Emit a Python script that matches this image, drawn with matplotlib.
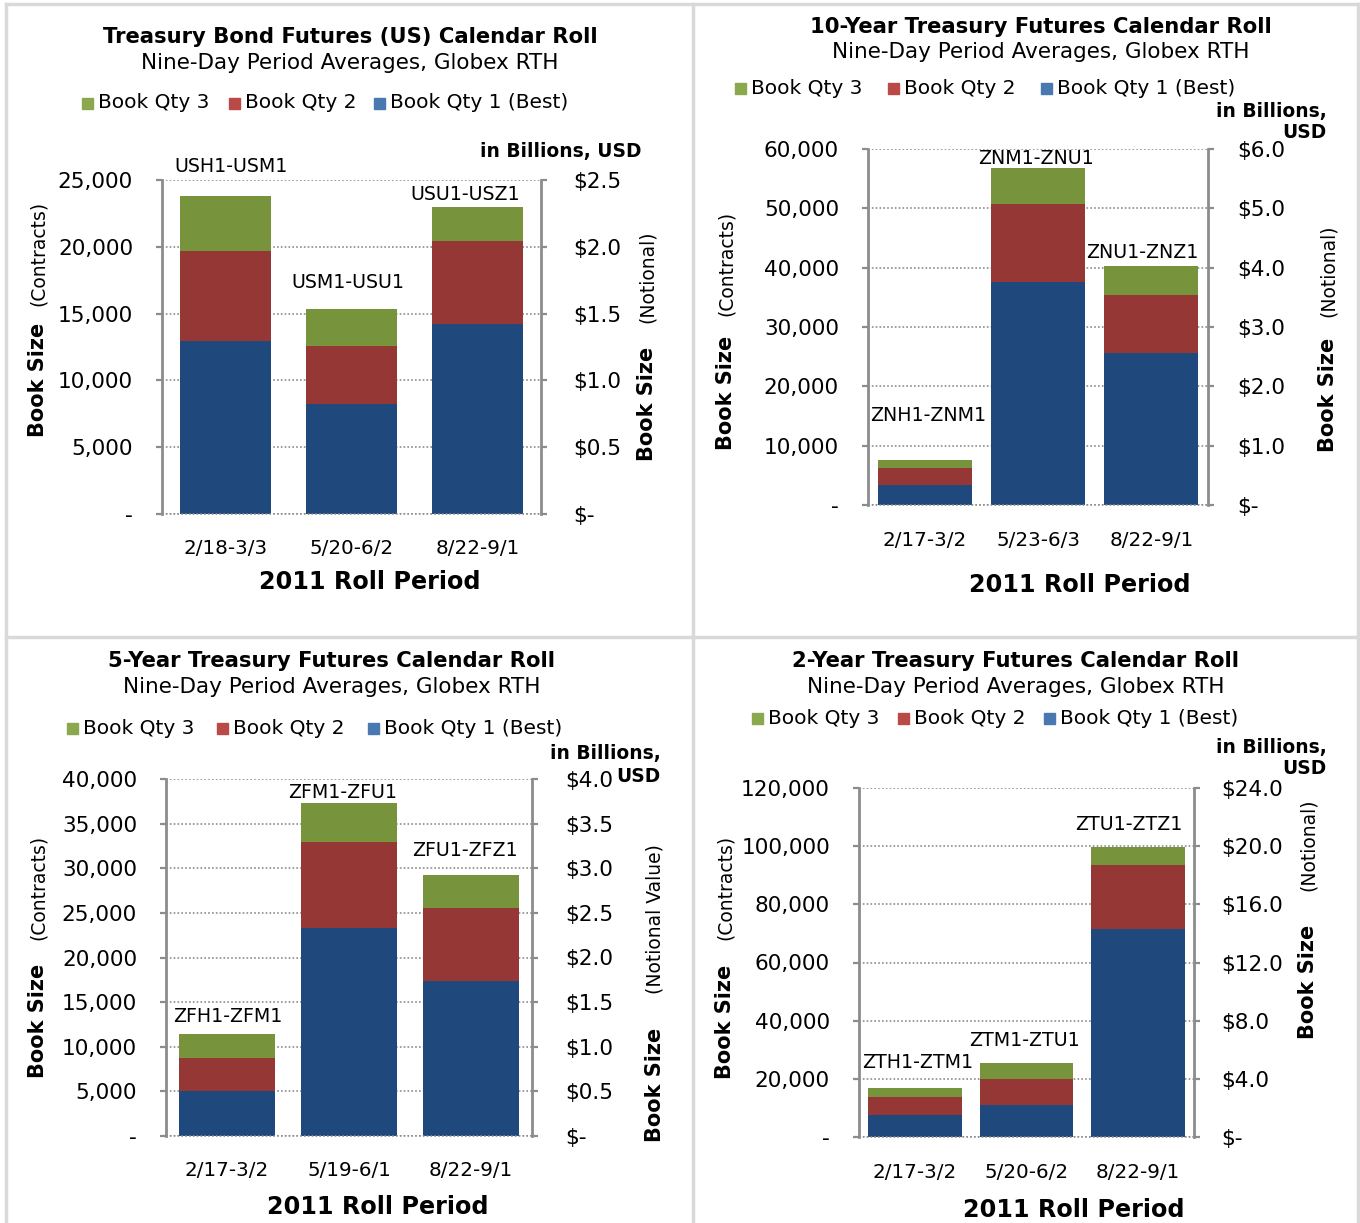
import matplotlib.pyplot as plt
from matplotlib.lines import Line2D
from matplotlib.patches import Rectangle

W, H = 1360, 1223

# ---- data (contracts) ----
us_periods = ['2/18-3/3', '5/20-6/2', '8/22-9/1']
us_rolls = ['USH1-USM1', 'USM1-USU1', 'USU1-USZ1']
us_qty1 = [12950, 8230, 14220]
us_qty2 = [6740, 4340, 6210]
us_qty3 = [4110, 2770, 2550]

zn_periods = ['2/17-3/2', '5/23-6/3', '8/22-9/1']
zn_rolls = ['ZNH1-ZNM1', 'ZNM1-ZNU1', 'ZNU1-ZNZ1']
zn_qty1 = [3370, 37600, 25600]
zn_qty2 = [2870, 13100, 9800]
zn_qty3 = [1340, 6100, 4900]

zf_periods = ['2/17-3/2', '5/19-6/1', '8/22-9/1']
zf_rolls = ['ZFH1-ZFM1', 'ZFM1-ZFU1', 'ZFU1-ZFZ1']
zf_qty1 = [5040, 23300, 17400]
zf_qty2 = [3700, 9600, 8100]
zf_qty3 = [2690, 4400, 3700]

zt_periods = ['2/17-3/2', '5/20-6/2', '8/22-9/1']
zt_rolls = ['ZTH1-ZTM1', 'ZTM1-ZTU1', 'ZTU1-ZTZ1']
zt_qty1 = [7600, 11000, 71500]
zt_qty2 = [6200, 8900, 22000]
zt_qty3 = [3000, 5500, 6200]

legend_names = ['Book Qty 3', 'Book Qty 2', 'Book Qty 1 (Best)']
bar_colors = ['#1F497D', '#953735', '#77933C']
leg_colors = ['#8AA84E', '#B94A48', '#4A78B0']
GRAY = '#8C8C8C'
PX = 72 / 100  # points per pixel

fig = plt.figure(figsize=(W / 100, H / 100), dpi=100)


def fx(x):
    return x / W


def fy(y):
    return 1 - y / H


def txt(x, y, s, **kw):
    fig.text(fx(x), fy(y), s, va='center', **kw)


def panel(box, periods, rolls, q1, q2, q3, ymax, step, scale, width,
          rgap, title, sub, leg, roll_pos, cat_y, xlab, ylab_l, ylab_r,
          inbill, rlabel='(Notional)'):
    l, r, t, b = box
    ax = fig.add_axes([fx(l), fy(b), fx(r - l), (b - t) / H])
    x = range(len(periods))
    ax.bar(x, q1, width, color=bar_colors[0], zorder=3)
    ax.bar(x, q2, width, bottom=q1, color=bar_colors[1], zorder=3)
    bot = [a + c for a, c in zip(q1, q2)]
    ax.bar(x, q3, width, bottom=bot, color=bar_colors[2], zorder=3)
    ax.set_xlim(-0.5, 2.5)
    ax.set_ylim(0, ymax)
    ticks = list(range(0, ymax + 1, step))
    ax.set_yticks(ticks)
    ax.set_yticklabels(['-' if v == 0 else f'{v:,}' for v in ticks], fontsize=15.6)
    ax.set_xticks([])
    ax.grid(axis='y', linestyle=(0, (1, 1.3)), color=GRAY, lw=1.2, zorder=0)
    ax.set_axisbelow(True)
    for s in ['top', 'bottom', 'right']:
        ax.spines[s].set_visible(False)
    ax.spines['left'].set_color(GRAY)
    ax.spines['left'].set_linewidth(2)
    ax.tick_params(axis='y', color=GRAY, length=6 * PX, width=1.6, pad=23 * PX)

    ax2 = ax.twinx()
    ax2.set_ylim(0, ymax / scale)
    rt = [v / scale for v in ticks]
    ax2.set_yticks(rt)
    ax2.set_yticklabels(['$-' if v == 0 else f'${v:.1f}' for v in rt], fontsize=15.6)
    for s in ['top', 'bottom', 'left']:
        ax2.spines[s].set_visible(False)
    ax2.spines['right'].set_color(GRAY)
    ax2.spines['right'].set_linewidth(2)
    ax2.tick_params(axis='y', color=GRAY, length=6 * PX, width=1.6,
                    pad=(rgap - 6) * PX)
    ax2.plot([-0.5, 2.5], [0, 0], ls=(0, (1, 1.3)), color=GRAY, lw=1.2,
             clip_on=False, zorder=1)

    # titles
    txt(title[0], title[1], title[2], ha='center', fontsize=15.2, fontweight='bold')
    txt(sub[0], sub[1], sub[2], ha='center', fontsize=15.5)
    # legend
    ly = leg[0]
    for xs, name, c in zip(leg[1], legend_names, leg_colors):
        fig.patches.append(Rectangle((fx(xs), fy(ly + 5.5)), 11 / W, 11 / H,
                                     transform=fig.transFigure, color=c))
        txt(xs + 16, ly, name, ha='left', fontsize=14.5)
    # roll labels
    for (rx, ry), s in zip(roll_pos, rolls):
        txt(rx, ry, s, ha='center', fontsize=13.7)
    # categories
    centers = [ax.transData.transform((i, 0))[0] for i in x]
    for c, s in zip(centers, periods):
        fig.text(c / W, fy(cat_y), s, ha='center', va='center', fontsize=14.3)
    txt(xlab[0], xlab[1], '2011 Roll Period', ha='center', fontsize=17.2,
        fontweight='bold')
    # y labels
    txt(ylab_l[0], ylab_l[1], 'Book Size', ha='center', rotation=90,
        fontsize=15, fontweight='bold')
    txt(ylab_l[0], ylab_l[2], '(Contracts)', ha='center', rotation=90, fontsize=13.5)
    txt(ylab_r[0], ylab_r[1], 'Book Size', ha='center', rotation=90,
        fontsize=15, fontweight='bold')
    txt(ylab_r[0], ylab_r[2], rlabel, ha='center', rotation=90, fontsize=13.5)
    for ix, iy, s in inbill:
        txt(ix, iy, s, ha='right', fontsize=13.4, fontweight='bold')


panel((162, 541, 180, 514), us_periods, us_rolls, us_qty1, us_qty2, us_qty3,
      25000, 5000, 10000, 0.72, 32,
      (350, 37, 'Treasury Bond Futures (US) Calendar Roll'),
      (350, 63, 'Nine-Day Period Averages, Globex RTH'),
      (103, [82, 229, 374]),
      [(231, 166), (348, 283), (465, 194)], 548, (370, 582),
      (38, 380, 253), (647, 404, 277),
      [(641, 152, 'in Billions, USD')])

panel((868, 1208, 149, 505), zn_periods, zn_rolls, zn_qty1, zn_qty2, zn_qty3,
      60000, 10000, 10000, 0.83, 29,
      (1041, 27, '10-Year Treasury Futures Calendar Roll'),
      (1041, 52, 'Nine-Day Period Averages, Globex RTH'),
      (88, [735, 888, 1041]),
      [(928, 416), (1036, 158), (1142, 253)], 540, (1080, 585),
      (726, 393, 263), (1328, 395, 271),
      [(1327, 111, 'in Billions,'), (1327, 133, 'USD')])

panel((166, 532, 779, 1136), zf_periods, zf_rolls, zf_qty1, zf_qty2, zf_qty3,
      40000, 5000, 10000, 0.79, 33,
      (332, 661, '5-Year Treasury Futures Calendar Roll'),
      (332, 687, 'Nine-Day Period Averages, Globex RTH'),
      (728, [67, 217, 368]),
      [(228, 1016), (343, 792), (465, 850)], 1170, (378, 1207),
      (38, 1021, 887), (655, 1085, 919),
      [(661, 754, 'in Billions,'), (661, 777, 'USD')],
      rlabel='(Notional Value)')

panel((859, 1194, 788, 1137), zt_periods, zt_rolls, zt_qty1, zt_qty2, zt_qty3,
      120000, 20000, 5000, 0.84, 27,
      (1016, 661, '2-Year Treasury Futures Calendar Roll'),
      (1016, 687, 'Nine-Day Period Averages, Globex RTH'),
      (718, [752, 898, 1044]),
      [(918, 1063), (1025, 1040), (1129, 824)], 1172, (1074, 1210),
      (725, 1022, 887), (1308, 982, 845),
      [(1327, 747, 'in Billions,'), (1327, 769, 'USD')])

# panel borders
bc = '#D9D9D9'
for xs, ys in [([6, 6], [4, 1223]), ([1358, 1358], [4, 1223]), ([6, 1358], [4, 4]),
               ([693, 693], [4, 1223]), ([6, 1358], [637, 637])]:
    fig.add_artist(Line2D([fx(v) for v in xs], [fy(v) for v in ys], color=bc, lw=2.5))

fig.savefig('out.png', dpi=100)
